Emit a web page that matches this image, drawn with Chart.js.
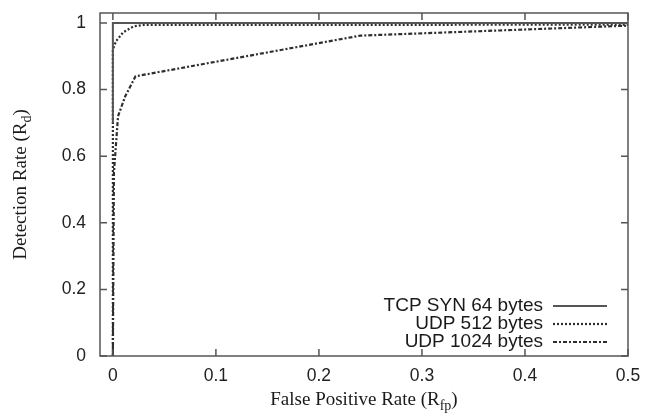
<!DOCTYPE html>
<html>
<head>
<meta charset="utf-8">
<script src="https://cdn.jsdelivr.net/npm/chart.js@4/dist/chart.umd.min.js"></script>
<style>
  html, body { margin: 0; padding: 0; background: #fff; }
  #wrap { width: 656px; height: 414px; }
</style>
</head>
<body>
<div id="wrap"><canvas id="rocChart" width="656" height="414"></canvas></div>
<script>
// ROC curves
var seriesNames = ["TCP SYN 64 bytes", "UDP 512 bytes", "UDP 1024 bytes"];

var tcpFp = [0, 0, 0.5];
var tcpRd = [0.7, 1, 1];

var udp512Fp = [0, 0, 0.003, 0.01, 0.02, 0.03, 0.5];
var udp512Rd = [0, 0.92, 0.945, 0.972, 0.99, 0.994, 0.995];

var udp1024Fp = [0, 0.001, 0.005, 0.012, 0.022, 0.24, 0.5];
var udp1024Rd = [0, 0.55, 0.72, 0.78, 0.84, 0.962, 0.992];

var xTicks = [0, 0.1, 0.2, 0.3, 0.4, 0.5];
var yTicks = [0, 0.2, 0.4, 0.6, 0.8, 1];

function pts(xs, ys) {
  return xs.map(function (x, i) { return { x: x, y: ys[i] }; });
}

var lineCol = '#2e2e2e';
var frameCol = '#555';

// frame, inward mirrored ticks, axis titles with subscripts, legend
var gnuplotLook = {
  id: 'gnuplotLook',
  afterDraw: function (chart) {
    var ctx = chart.ctx, a = chart.chartArea;
    var sx = chart.scales.x, sy = chart.scales.y;
    ctx.save();
    ctx.strokeStyle = frameCol;
    ctx.lineWidth = 1.5;
    ctx.setLineDash([]);
    ctx.strokeRect(a.left, a.top, a.right - a.left, a.bottom - a.top);
    ctx.beginPath();
    xTicks.forEach(function (v) {
      var px = sx.getPixelForValue(v);
      ctx.moveTo(px, a.bottom); ctx.lineTo(px, a.bottom - 7);
      ctx.moveTo(px, a.top); ctx.lineTo(px, a.top + 7);
    });
    yTicks.forEach(function (v) {
      var py = sy.getPixelForValue(v);
      ctx.moveTo(a.left, py); ctx.lineTo(a.left + 7, py);
      ctx.moveTo(a.right, py); ctx.lineTo(a.right - 7, py);
    });
    ctx.stroke();

    // axis titles
    ctx.fillStyle = '#1a1a1a';
    function subTitle(main, sub, cx, cy, rot) {
      var big = '19px "Liberation Serif", "Times New Roman", serif';
      var small = '14px "Liberation Serif", "Times New Roman", serif';
      ctx.font = big; var w1 = ctx.measureText(main).width; var w3 = ctx.measureText(')').width;
      ctx.font = small; var w2 = ctx.measureText(sub).width;
      var tot = w1 + w2 + w3;
      ctx.save();
      ctx.translate(cx, cy);
      if (rot) ctx.rotate(-Math.PI / 2);
      ctx.textBaseline = 'middle';
      ctx.textAlign = 'left';
      var x0 = -tot / 2;
      ctx.font = big; ctx.fillText(main, x0, 0);
      ctx.font = small; ctx.fillText(sub, x0 + w1, 6);
      ctx.font = big; ctx.fillText(')', x0 + w1 + w2, 0);
      ctx.restore();
    }
    subTitle('False Positive Rate (R', 'fp', (a.left + a.right) / 2, 400, false);
    subTitle('Detection Rate (R', 'd', 21, (a.top + a.bottom) / 2, true);

    // legend, text right aligned with sample on the right
    var rows = [306, 324, 342];
    chart.data.datasets.forEach(function (ds, i) {
      ctx.font = '19px "Liberation Sans", Arial, sans-serif';
      ctx.textAlign = 'right';
      ctx.textBaseline = 'middle';
      ctx.fillStyle = '#1a1a1a';
      ctx.fillText(ds.label, 543, rows[i]);
      ctx.beginPath();
      ctx.strokeStyle = ds.borderColor;
      ctx.lineWidth = ds.borderWidth;
      ctx.setLineDash(ds.borderDash || []);
      ctx.moveTo(553, rows[i]); ctx.lineTo(607, rows[i]);
      ctx.stroke();
    });
    ctx.restore();
  }
};

var ctxR = document.getElementById("rocChart").getContext('2d');
var rocChart = new Chart(ctxR, {
  type: 'scatter',
  data: {
    datasets: [{
      label: seriesNames[0],
      data: pts(tcpFp, tcpRd),
      borderColor: '#555',
      borderWidth: 2,
      borderDash: []
    },
    {
      label: seriesNames[1],
      data: pts(udp512Fp, udp512Rd),
      borderColor: lineCol,
      borderWidth: 2.2,
      borderDash: [2, 2]
    },
    {
      label: seriesNames[2],
      data: pts(udp1024Fp, udp1024Rd),
      borderColor: lineCol,
      borderWidth: 2.2,
      borderDash: [4, 2, 2, 2]
    }]
  },
  options: {
    responsive: false,
    animation: false,
    showLine: true,
    elements: { point: { radius: 0, hoverRadius: 0 }, line: { tension: 0, fill: false } },
    layout: { padding: { left: 0, top: 13, right: 28, bottom: 0 } },
    plugins: { legend: { display: false }, tooltip: { enabled: false } },
    scales: {
      x: {
        type: 'linear',
        min: -0.0125,
        max: 0.5,
        afterBuildTicks: function (s) { s.ticks = xTicks.map(function (v) { return { value: v }; }); },
        afterFit: function (s) { s.height = 58; s.paddingLeft = 0; s.paddingRight = 0; },
        grid: { display: false, drawTicks: false },
        border: { display: false },
        ticks: {
          padding: 10,
          color: '#222',
          font: { family: '"Liberation Sans", Arial, sans-serif', size: 17.5 },
          maxRotation: 0,
          callback: function (v) { return String(v); }
        }
      },
      y: {
        type: 'linear',
        min: 0,
        max: 1.03,
        afterBuildTicks: function (s) { s.ticks = yTicks.map(function (v) { return { value: v }; }); },
        afterFit: function (s) { s.width = 100; s.paddingTop = 0; s.paddingBottom = 0; },
        grid: { display: false, drawTicks: false },
        border: { display: false },
        ticks: {
          padding: 14,
          color: '#222',
          font: { family: '"Liberation Sans", Arial, sans-serif', size: 17.5 },
          callback: function (v) { return String(v); }
        }
      }
    }
  },
  plugins: [gnuplotLook]
});
</script>
</body>
</html>
